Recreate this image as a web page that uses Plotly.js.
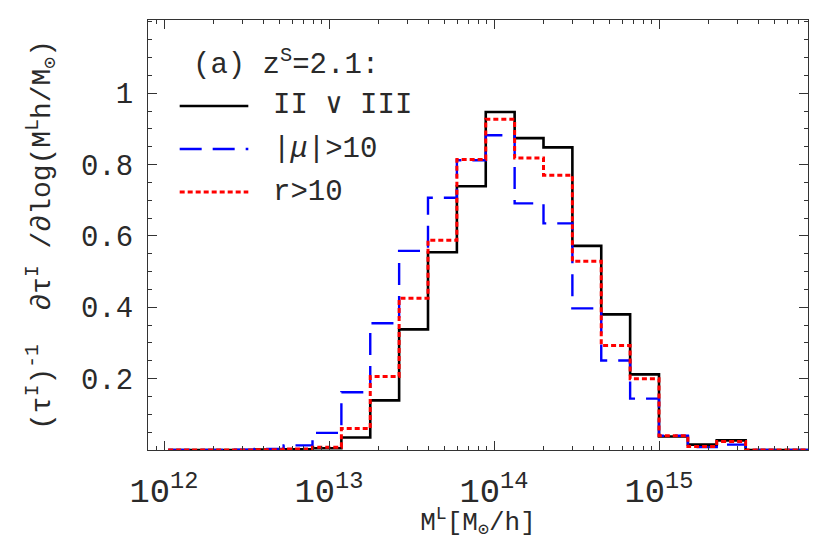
<!DOCTYPE html>
<html>
<head>
<meta charset="utf-8">
<script src="https://cdn.plot.ly/plotly-3.0.1.min.js"></script>
<style>
  body { margin: 0; background: #fff; }
  #chart { width: 830px; height: 540px; }
</style>
</head>
<body>
<div id="chart"></div>
<script>
// bin edges as log10(M / (Msun/h)); last edge just pads the zero tail out past the frame
var logEdges = [12.025, 12.2, 12.375, 12.55, 12.725, 12.9, 13.075, 13.25, 13.425, 13.6,
                13.775, 13.95, 14.125, 14.3, 14.475, 14.65, 14.825, 15.0, 15.175, 15.35,
                15.525, 16.1];

// normalised histogram heights, one per bin
var allCaustic = [0, 0, 0, 0.001, 0.002, 0.005, 0.035, 0.139, 0.338, 0.554, 0.739,
                  0.947, 0.874, 0.848, 0.572, 0.38, 0.212, 0.038, 0.015, 0.027, 0];
var highMu =     [0, 0, 0.001, 0.003, 0.013, 0.048, 0.162, 0.355, 0.558, 0.707, 0.812,
                  0.882, 0.691, 0.635, 0.397, 0.251, 0.144, 0.04, 0.008, 0.015, 0];
var highR =      [0, 0, 0, 0.001, 0.003, 0.008, 0.06, 0.206, 0.425, 0.588, 0.814,
                  0.927, 0.818, 0.77, 0.529, 0.293, 0.2, 0.04, 0.01, 0.024, 0];

var legendLabels = ['II \u2228 III', '|<i>\u03bc</i>|>10', 'r>10'];

var FONT = 'Liberation Mono, Courier New, monospace';
var INK = '#2a2a2a';

var xs = logEdges.map(function (e) { return Math.pow(10, e); });
function stepY(v) { return v.concat([v[v.length - 1]]); }

var styles = [
  {color: '#000000', width: 2.6, dash: 'solid'},
  {color: '#0000ff', width: 2.4, dash: '22px,11px'},
  {color: '#ff0000', width: 3, dash: '5px,3px'}
];
var series = [allCaustic, highMu, highR];

var data = series.map(function (v, i) {
  return {
    x: xs,
    y: stepY(v),
    type: 'scatter',
    mode: 'lines',
    line: {shape: 'hv', color: styles[i].color, width: styles[i].width, dash: styles[i].dash},
    showlegend: false,
    hoverinfo: 'skip'
  };
});

// hand-made legend, the sample lines are longer than plotly's legend allows
var legendY = [0.8, 0.7, 0.6];
var shapes = legendY.map(function (y, i) {
  return {
    type: 'line', xref: 'paper', yref: 'paper',
    x0: 0.048, x1: 0.152, y0: y, y1: y,
    line: {color: styles[i].color, width: styles[i].width, dash: styles[i].dash}
  };
});
var annotations = legendY.map(function (y, i) {
  return {
    xref: 'paper', yref: 'paper', x: 0.186, y: y,
    xanchor: 'left', yanchor: 'middle', showarrow: false,
    text: legendLabels[i], font: {family: FONT, size: 29, color: INK}
  };
});
annotations.push({
  xref: 'paper', yref: 'paper', x: 0.065, y: 0.9,
  xanchor: 'left', yanchor: 'middle', showarrow: false,
  text: '(a) z<sup>S</sup>=2.1:', font: {family: FONT, size: 29, color: INK}
});

var layout = {
  width: 830,
  height: 540,
  margin: {l: 148, r: 22, t: 20, b: 90},
  paper_bgcolor: '#fff',
  plot_bgcolor: '#fff',
  font: {family: FONT, color: INK},
  xaxis: {
    type: 'log',
    range: [11.903, 15.903],
    tickmode: 'linear', tick0: 0, dtick: 1,
    exponentformat: 'power',
    ticks: 'inside', ticklen: 9, tickcolor: '#333',
    minor: {ticks: 'inside', dtick: 'D1', ticklen: 4, tickcolor: '#333'},
    showline: true, linecolor: '#333', linewidth: 1, mirror: 'ticks',
    showgrid: false, zeroline: false,
    tickfont: {family: FONT, size: 27, color: INK},
    ticklabelstandoff: 12,
    title: {text: 'M<sup>L</sup>[M<sub>\u2299</sub>/h]', font: {family: FONT, size: 26, color: INK}, standoff: 14}
  },
  yaxis: {
    range: [0, 1.205],
    tickmode: 'array',
    tickvals: [0.2, 0.4, 0.6, 0.8, 1],
    ticktext: ['0.2', '0.4', '0.6', '0.8', '1'],
    ticks: 'inside', ticklen: 9, tickcolor: '#333',
    minor: {ticks: 'inside', tickmode: 'linear', tick0: 0, dtick: 0.05, ticklen: 4, tickcolor: '#333'},
    showline: true, linecolor: '#333', linewidth: 1, mirror: 'ticks',
    showgrid: false, zeroline: false,
    tickfont: {family: FONT, size: 29, color: INK},
    ticklabelstandoff: 8,
    title: {text: '(\u03c4<sup>I</sup>)<sup>-1</sup>  \u2202\u03c4<sup>I</sup> /\u2202log(M<sup>L</sup>h/M<sub>\u2299</sub>)',
            font: {family: FONT, size: 28, color: INK}, standoff: 22}
  },
  shapes: shapes,
  annotations: annotations
};

Plotly.newPlot('chart', data, layout, {displayModeBar: false, staticPlot: true});
</script>
</body>
</html>
